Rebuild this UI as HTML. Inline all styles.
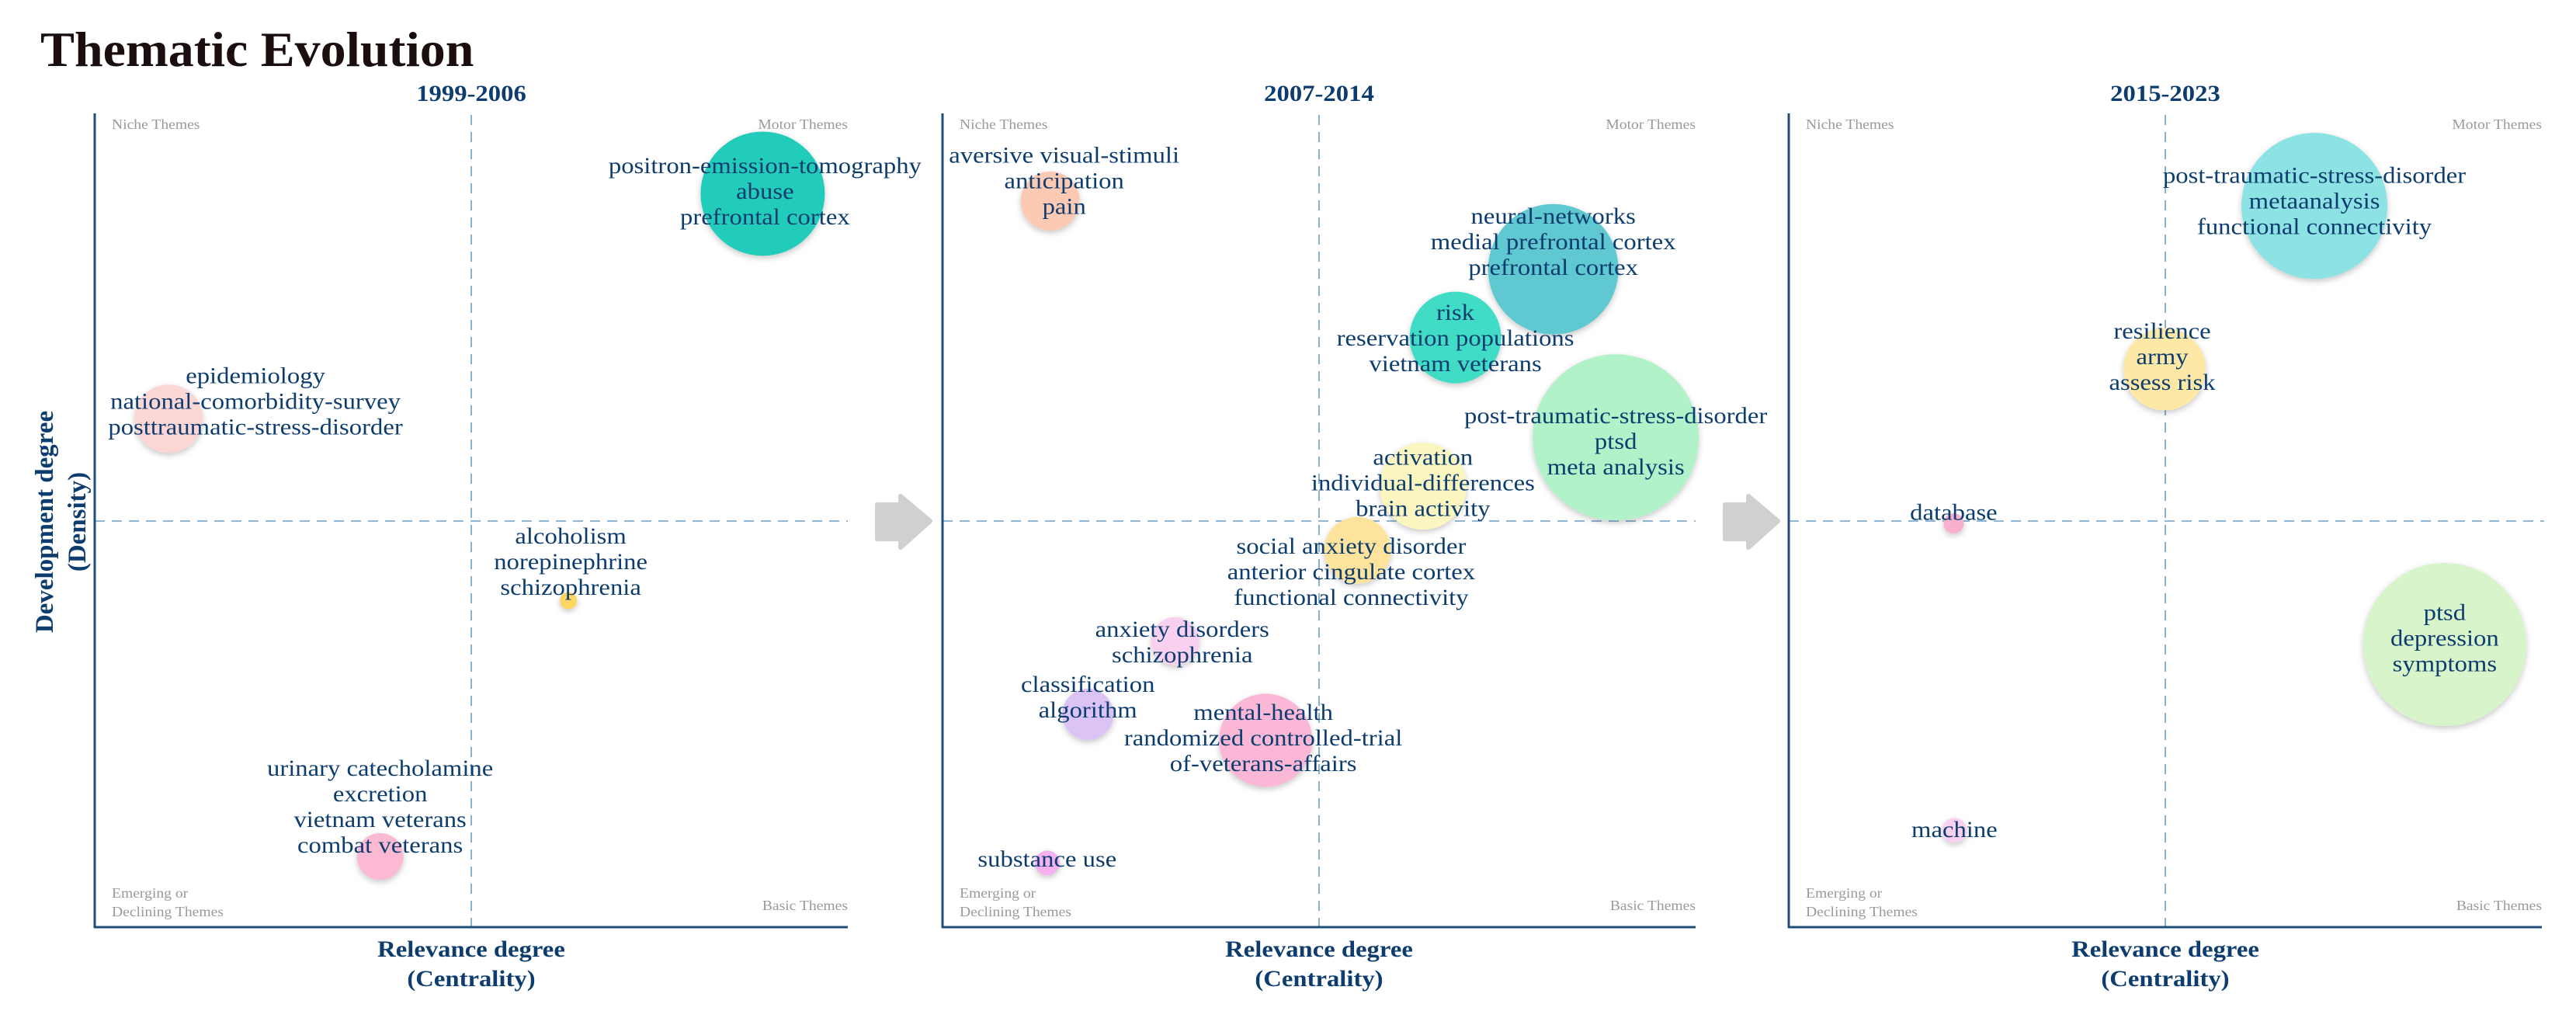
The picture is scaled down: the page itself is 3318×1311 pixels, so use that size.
<!DOCTYPE html>
<html><head><meta charset="utf-8"><style>
html,body{margin:0;padding:0;background:#fff;}
svg{display:block;}
text{font-family:"Liberation Serif",serif;}
.lbl{fill:#0d3c6e;font-size:30px;text-anchor:middle;dominant-baseline:central;}
.q{fill:#9a9a9a;font-size:18px;}
.ax{fill:#0d3c6e;font-size:30px;font-weight:bold;text-anchor:middle;dominant-baseline:central;}
</style></head><body>
<svg id="chart" width="3318" height="1311" viewBox="0 0 3318 1311" xmlns="http://www.w3.org/2000/svg">
<defs><filter id="sh" x="-30%" y="-30%" width="160%" height="160%"><feDropShadow dx="0" dy="3" stdDeviation="4" flood-color="#000" flood-opacity="0.22"/></filter></defs>
<text x="52" y="85" font-size="64" font-weight="bold" fill="#1a0e0e" transform="translate(52,0) scale(1.03,1) translate(-52,0)">Thematic Evolution</text>
<text class="ax" x="0" y="0" font-size="33" transform="translate(58,672) rotate(-90) scale(1.1,1.1)">Development degree</text>
<text class="ax" x="0" y="0" font-size="33" transform="translate(100,672) rotate(-90) scale(1.1,1.1)">(Density)</text>
<path d="M1130 650 h30 v-11 l38 32 l-38 34 v-11 h-30 z" fill="#d0d0d0" stroke="#d0d0d0" stroke-width="6" stroke-linejoin="round"/>
<path d="M2222 650 h30 v-11 l38 32 l-38 34 v-11 h-30 z" fill="#d0d0d0" stroke="#d0d0d0" stroke-width="6" stroke-linejoin="round"/>
<g id="panels"></g>
</svg>
<script>
const periods = ["1999-2006", "2007-2014", "2015-2023"];
const p1Labels = [["positron-emission-tomography","abuse","prefrontal cortex"],["epidemiology","national-comorbidity-survey","posttraumatic-stress-disorder"],["alcoholism","norepinephrine","schizophrenia"],["urinary catecholamine","excretion","vietnam veterans","combat veterans"]];
const p1Centrality = [88.7, 9.8, 62.9, 37.9];
const p1Density = [90.3, 62.6, 40.2, 8.7];
const p1Size = [80, 44, 11, 30];
const p2Labels = [["aversive visual-stimuli","anticipation","pain"],["neural-networks","medial prefrontal cortex","prefrontal cortex"],["risk","reservation populations","vietnam veterans"],["post-traumatic-stress-disorder","ptsd","meta analysis"],["activation","individual-differences","brain activity"],["social anxiety disorder","anterior cingulate cortex","functional connectivity"],["anxiety disorders","schizophrenia"],["classification","algorithm"],["mental-health","randomized controlled-trial","of-veterans-affairs"],["substance use"]];
const p2Centrality = [14.3, 81.1, 68.1, 89.4, 63.8, 55.1, 30.9, 19.3, 42.9, 13.9];
const p2Density = [89.4, 81.0, 72.6, 60.3, 54.3, 46.4, 35.2, 26.2, 23.0, 7.9];
const p2Size = [38, 84, 59, 107, 56, 43, 31, 33, 60, 16];
const p3Labels = [["post-traumatic-stress-disorder","metaanalysis","functional connectivity"],["resilience","army","assess risk"],["database"],["ptsd","depression","symptoms"],["machine"]];
const p3Centrality = [69.8, 49.9, 21.9, 87.1, 22.0];
const p3Density = [88.8, 68.7, 49.7, 34.8, 11.9];
const p3Size = [94, 53, 13, 105, 16];

const NS = "http://www.w3.org/2000/svg";
const panelLeft = [122, 1214, 2304];
const W = 970, TOP = 148, BOT = 1194;
const SX = 1.09;
const styles = [
 {colors:["#22ccbb","#fcd5d5","#fdd663","#fbb9d4"], ldx:[3,112,3,0], ldy:[-4,-23,-51,-65]},
 {colors:["#fcc9b3","#5ec8d0","#40dcc6","#b2f2c9","#fbf5c0","#fde39c","#f9d0f0","#dcc3f5","#fbb7d6","#f5b0f0"], ldx:[18,0,0,0,0,-8,9,0,-3,0], ldy:[-27,-36,0,4,-5,27,0,-23,-4,-6]},
 {colors:["#8de2e4","#fde8a5","#f9b0cf","#d8f4cb","#f8d0f0"], ldx:[0,-3,0,0,0], ldy:[-7,-17,-15,-9,-2]}
];
const data = [[p1Labels,p1Centrality,p1Density,p1Size],[p2Labels,p2Centrality,p2Density,p2Size],[p3Labels,p3Centrality,p3Density,p3Size]];
const root = document.getElementById("panels");
function mk(tag, attrs, parent){const e=document.createElementNS(NS,tag);for(const k in attrs)e.setAttribute(k,attrs[k]);parent.appendChild(e);return e;}
function stretch(el, ax){el.setAttribute("transform","translate("+ax+",0) scale("+SX+",1) translate("+(-ax)+",0)");}

for(let p=0;p<3;p++){
  const L = panelLeft[p];
  const xs = v => L + v/100*W;
  const ys = v => BOT - v/100*(BOT-TOP);
  const g = mk("g",{},root);
  
  
  const mx = xs(50), my = ys(50);
  const t = mk("text",{x:mx,y:120,class:"ax"},g); t.textContent = periods[p]; stretch(t,mx);
  
  
  const dv = mk("line",{x1:mx,y1:TOP,x2:mx,y2:BOT,stroke:"#6a9ec4","stroke-width":1.6,"stroke-dasharray":"13 9"},g);
  
  
  const dh = mk("line",{x1:L,y1:my,x2:L+W+(p==2?3:0),y2:my,stroke:"#6a9ec4","stroke-width":1.6,"stroke-dasharray":"13 9"},g);
  
  
  const ya = mk("line",{x1:L,y1:TOP-2,x2:L,y2:BOT+1,stroke:"#1f4e79","stroke-width":3},g);
  
  
  const xa = mk("line",{x1:L-1,y1:BOT,x2:L+W,y2:BOT,stroke:"#1f4e79","stroke-width":3},g);
  
  
  const qd = [["Niche Themes",L+22,166,"start"],["Motor Themes",L+W,166,"end"],["Emerging or",L+22,1156,"start"],["Declining Themes",L+22,1180,"start"],["Basic Themes",L+W,1172,"end"]];
  qd.forEach(q=>{const e=mk("text",{x:q[1],y:q[2],class:"q","text-anchor":q[3]},g);e.textContent=q[0]; stretch(e,q[1]);
    
    });
  const x1 = mk("text",{x:mx,y:1222,class:"ax"},g); x1.textContent="Relevance degree"; stretch(x1,mx);
  
  
  const x2 = mk("text",{x:mx,y:1260,class:"ax"},g); x2.textContent="(Centrality)"; stretch(x2,mx);
  
  
  const [labs,cen,den,sz] = data[p];
  const st = styles[p];
  for(let i=0;i<labs.length;i++){
    const cx = xs(cen[i]), cy = ys(den[i]);
    const c = mk("circle",{cx:cx,cy:cy,r:sz[i],fill:st.colors[i],filter:"url(#sh)"},g);
    
    
  }
  for(let i=0;i<labs.length;i++){
    const cx = xs(cen[i])+st.ldx[i], cy = ys(den[i])+st.ldy[i];
    const n = labs[i].length;
    const tg = mk("text",{class:"lbl"},g);
    stretch(tg,cx);
    
    
    labs[i].forEach((s,j)=>{const ts=mk("tspan",{x:cx,y:cy+(j-(n-1)/2)*33},tg);ts.textContent=s;});
  }
}
</script>
</body></html>
